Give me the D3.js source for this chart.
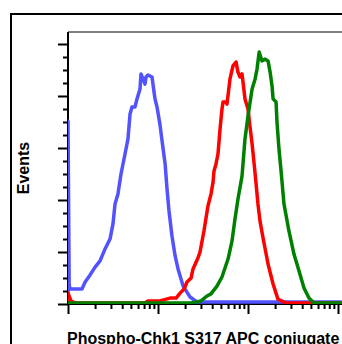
<!DOCTYPE html>
<html>
<head>
<meta charset="utf-8">
<script src="https://cdn.jsdelivr.net/npm/d3@7"></script>
<style>
  html, body { margin: 0; padding: 0; background: #fff; }
  svg { display: block; }
  text { font-family: "Liberation Sans", Arial, sans-serif; font-weight: bold; }
</style>
</head>
<body>
<div id="chart"></div>
<script>
// Fluorescence histogram data: [intensity, events]
const blueSeries = [
  [1, 0], [1, 70], [1.03, 7.3], [1.05, 5.4], [1.43, 5.4], [1.55, 8.1], [1.76, 10.8],
  [2.0, 13.8], [2.27, 16.2], [2.58, 20.8], [2.93, 24.6], [3.16, 30.4], [3.33, 38.1],
  [3.59, 41.9], [3.88, 49.6], [4.30, 57.3], [4.64, 63.1], [4.89, 72.7], [5.14, 75.4],
  [5.55, 75.4], [5.84, 78.5], [6.31, 82.3], [6.47, 88.1], [6.81, 86.2], [7.17, 84.2],
  [7.36, 86.9], [7.74, 87.7], [8.58, 86.9], [9.26, 78.5], [9.75, 75.4], [10.5, 68.8],
  [11.4, 59.2], [12.0, 53.5], [12.6, 43.8], [13.25, 35.4], [14.3, 25.8], [15.5, 18.1],
  [16.7, 13.1], [19.0, 6.5], [22.7, 2.3], [27.1, 0.4], [1100, 0.4]
];
const redSeries = [
  [1, 0], [1, 3.8], [1.08, 0.8], [1.2, 0], [7.17, 0], [7.74, 0.8], [10.5, 0.8],
  [13.6, 1.9], [15.9, 1.9], [17.6, 3.8], [19.5, 5.4], [21.0, 8.1], [23.3, 9.6],
  [24.5, 13.1], [27.8, 17.3], [29.3, 19.6], [32.4, 27.7], [35.9, 37.3], [38.8, 41.9],
  [40.9, 46.5], [41.9, 50.8], [44.1, 53.5], [46.4, 57.3], [48.9, 66.9], [51.4, 74.6],
  [52.8, 77.3], [57.0, 77.3], [58.4, 76.5], [63.1, 86.2], [68.1, 91.2], [73.6, 92.7],
  [77.4, 88.8], [81.5, 86.9], [85.8, 88.1], [88.0, 85.0], [92.6, 78.5], [100, 74.6],
  [105, 68.1], [111, 61.2], [117, 53.5], [123, 45.8], [129, 38.1], [136, 31.5],
  [147, 25.0], [167, 15.0], [190, 7.3], [215, 1.5], [264, 0], [1100, 0]
];
const greenSeries = [
  [1, 0], [23.3, 0], [30.1, 0.8], [35.0, 2.7], [38.8, 3.5], [45.2, 6.5], [51.4, 10.0],
  [60.0, 16.9], [66.4, 23.8], [71.7, 32.3], [77.4, 40.0], [85.8, 48.8], [88.0, 53.5],
  [92.6, 63.1], [100, 71.9], [111, 82.3], [120, 86.2], [126, 90.0], [133, 96.5],
  [143, 93.1], [155, 93.8], [167, 93.1], [176, 88.8], [185, 83.5], [190, 78.5],
  [205, 77.3], [210, 69.6], [221, 59.2], [233, 50.8], [251, 38.1], [285, 27.7],
  [324, 18.8], [369, 12.3], [419, 5.8], [476, 1.9], [541, 0], [1100, 0]
];

const xMajorTicks = [1, 10, 100, 1000];
const xMinorTicks = [2, 3, 4, 5, 6, 7, 8, 9, 20, 30, 40, 50, 60, 70, 80, 90, 200, 300, 400, 500, 600, 700, 800, 900];
const yMajorTicks = [0, 20, 40, 60, 80, 100];
const yMinorTicks = [5, 10, 15, 25, 30, 35, 45, 50, 55, 65, 70, 75, 85, 90, 95];

const xLabel = 'Phospho-Chk1 S317 APC conjugate';
const yLabel = 'Events';

const width = 342, height = 344;
const plot = { left: 68, top: 32, bottom: 304, right: 342 };

const svg = d3.select('#chart')
  .append('svg')
  .attr('width', width)
  .attr('height', height);

const x = d3.scaleLog().domain([1, 1000]).range([plot.left, 338]);
const y = d3.scaleLinear().domain([0, 100]).range([plot.bottom, 44]);

// outer frame (left + top only, rest runs off the picture)
svg.append('path')
  .attr('d', `M11,${height} V14 H${width}`)
  .attr('fill', 'none')
  .attr('stroke', '#000')
  .attr('stroke-width', 2);

// inner frame top edge
svg.append('line')
  .attr('x1', plot.left).attr('x2', plot.right)
  .attr('y1', plot.top).attr('y2', plot.top)
  .attr('stroke', '#555')
  .attr('stroke-width', 1.5);

svg.append('defs').append('clipPath').attr('id', 'plot-clip')
  .append('rect')
  .attr('x', plot.left).attr('y', plot.top)
  .attr('width', plot.right - plot.left).attr('height', plot.bottom - plot.top);

// axes
const yAxisG = svg.append('g').attr('transform', `translate(${plot.left},0)`);
yAxisG.call(d3.axisLeft(y).tickValues(yMajorTicks).tickSize(10).tickFormat(''));
yAxisG.append('g').call(d3.axisLeft(y).tickValues(yMinorTicks).tickSize(5).tickFormat(''));
yAxisG.selectAll('.domain').remove();
yAxisG.selectAll('line').attr('stroke', '#000').attr('stroke-width', 2);
yAxisG.append('line')
  .attr('y1', plot.top).attr('y2', plot.bottom + 1)
  .attr('stroke', '#000').attr('stroke-width', 2);

const xAxisG = svg.append('g').attr('transform', `translate(0,${plot.bottom})`);
xAxisG.call(d3.axisBottom(x).tickValues(xMajorTicks).tickSize(10).tickFormat(''));
xAxisG.append('g').call(d3.axisBottom(x).tickValues(xMinorTicks).tickSize(5).tickFormat(''));
xAxisG.selectAll('.domain').remove();
xAxisG.selectAll('line').attr('stroke', '#000').attr('stroke-width', 2);
xAxisG.append('line')
  .attr('x1', plot.left - 1).attr('x2', plot.right)
  .attr('stroke', '#000').attr('stroke-width', 2);

// histogram curves
const line = d3.line()
  .x(d => x(d[0]))
  .y(d => y(d[1]));

const curves = svg.append('g')
  .attr('clip-path', 'url(#plot-clip)')
  .append('g')
  .attr('transform', 'translate(0,-1)');

[[blueSeries, '#5252ff'], [redSeries, '#ff0000'], [greenSeries, '#008000']].forEach(([data, color]) => {
  curves.append('path')
    .datum(data)
    .attr('fill', 'none')
    .attr('stroke', color)
    .attr('stroke-width', 3.5)
    .attr('stroke-linejoin', 'round')
    .attr('d', line);
});

// labels
svg.append('text')
  .attr('transform', 'translate(29,168) rotate(-90)')
  .attr('text-anchor', 'middle')
  .attr('font-size', 16)
  .text(yLabel);

svg.append('text')
  .attr('x', 67)
  .attr('y', 344)
  .attr('font-size', 16)
  .text(xLabel);
</script>
</body>
</html>
